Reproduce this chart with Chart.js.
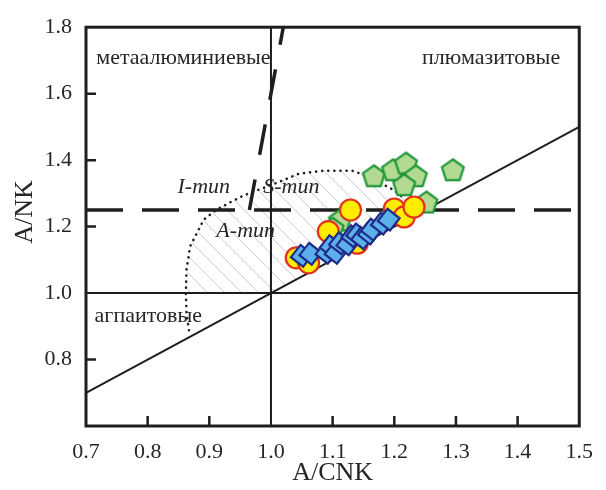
<!DOCTYPE html>
<html>
<head>
<meta charset="utf-8">
<script src="https://cdn.jsdelivr.net/npm/chart.js@4"></script>
<style>
  body { margin: 0; background: #fff; }
  canvas { display: block; }
</style>
</head>
<body>
<canvas id="shand" width="606" height="490"></canvas>
<script>
// Оси
const xTicks = [0.7, 0.8, 0.9, 1.0, 1.1, 1.2, 1.3, 1.4, 1.5];
const yTicks = [0.8, 1.0, 1.2, 1.4, 1.6, 1.8];
const xInnerTicks = [0.8, 0.9, 1.1, 1.2, 1.3, 1.4];
const yInnerTicks = [0.8, 1.2, 1.4, 1.6];

// Точки
const circleX = [1.041, 1.061, 1.093, 1.129, 1.140, 1.200, 1.216, 1.232];
const circleY = [1.106, 1.091, 1.185, 1.250, 1.150, 1.253, 1.229, 1.259];

const pentX = [1.167, 1.198, 1.219, 1.235, 1.216, 1.295, 1.252, 1.112, 1.100];
const pentY = [1.353, 1.371, 1.391, 1.353, 1.326, 1.371, 1.274, 1.220, 1.195];

const diamondX = [1.050, 1.064, 1.090, 1.097, 1.105, 1.112, 1.124, 1.132, 1.140, 1.148, 1.159, 1.164, 1.180, 1.191];
const diamondY = [1.112, 1.118, 1.121, 1.141, 1.121, 1.150, 1.147, 1.171, 1.176, 1.165, 1.179, 1.191, 1.209, 1.221];

// Границы полей
const diagX = [0.7, 1.5];
const diagY = [0.7, 1.5];
const dashHX = [0.7, 1.5];
const dashHY = [1.25, 1.25];
const dashVX = [0.965, 1.020];
const dashVY = [1.25, 1.8];
const dotX = [0.867, 0.863, 0.862, 0.863, 0.869, 0.891, 0.911, 0.935, 0.956, 0.990, 1.022, 1.045, 1.085, 1.132, 1.164, 1.183, 1.200, 1.214];
const dotY = [0.888, 0.94, 1.000, 1.070, 1.141, 1.221, 1.250, 1.274, 1.294, 1.318, 1.341, 1.359, 1.368, 1.368, 1.347, 1.326, 1.309, 1.288];

const labels = [
  { text: "метаалюминиевые", x: 0.858, y: 1.706, italic: false },
  { text: "плюмазитовые", x: 1.357, y: 1.706, italic: false },
  { text: "агпаитовые", x: 0.801, y: 0.929, italic: false },
  { text: "I-mun", x: 0.891, y: 1.32, italic: true },
  { text: "S-mun", x: 1.033, y: 1.32, italic: true },
  { text: "A-mun", x: 0.959, y: 1.185, italic: true }
];

const serif = "'Liberation Serif', 'Times New Roman', serif";
const toPts = (xs, ys) => xs.map((x, i) => ({ x: x, y: ys[i] }));

// пятиугольник
function pentagon(r, fill, stroke) {
  const c = document.createElement("canvas");
  const s = Math.ceil(r * 2 + 4);
  c.width = s; c.height = s;
  const g = c.getContext("2d");
  g.beginPath();
  for (let i = 0; i < 5; i++) {
    const a = -Math.PI / 2 + i * 2 * Math.PI / 5;
    const px = s / 2 + r * Math.cos(a), py = s / 2 + r * Math.sin(a) + 1;
    if (i === 0) g.moveTo(px, py); else g.lineTo(px, py);
  }
  g.closePath();
  g.fillStyle = fill; g.fill();
  g.lineWidth = 2.2; g.strokeStyle = stroke; g.stroke();
  return c;
}

const framePlugin = {
  id: "frame",
  beforeDatasetsDraw(chart) {
    const { ctx, chartArea: a, scales: { x, y } } = chart;
    // штриховка A-типа
    ctx.save();
    ctx.beginPath();
    let started = false;
    dotX.forEach((v, i) => {
      if (dotY[i] < 1.0) return;
      const px = x.getPixelForValue(v), py = y.getPixelForValue(dotY[i]);
      if (!started) { ctx.moveTo(px, py); started = true; } else ctx.lineTo(px, py);
    });
    const last = dotX[dotX.length - 1];
    ctx.lineTo(x.getPixelForValue(last + 0.01), y.getPixelForValue(last + 0.01));
    ctx.lineTo(x.getPixelForValue(1.0), y.getPixelForValue(1.0));
    ctx.closePath();
    ctx.clip();
    ctx.strokeStyle = "#cfcfcf";
    ctx.lineWidth = 1;
    const H = a.bottom - a.top;
    for (let k = a.left - H; k < a.right; k += 17) {
      ctx.beginPath();
      ctx.moveTo(k, a.top);
      ctx.lineTo(k + H, a.bottom);
      ctx.stroke();
    }
    ctx.restore();
  },
  afterDatasetsDraw(chart) {
    const { ctx, chartArea: a, scales: { x, y } } = chart;
    ctx.save();
    // надписи
    ctx.fillStyle = "#262626";
    ctx.textAlign = "center";
    ctx.textBaseline = "middle";
    labels.forEach(l => {
      ctx.font = (l.italic ? "italic " : "") + "22px " + serif;
      ctx.fillText(l.text, x.getPixelForValue(l.x), y.getPixelForValue(l.y));
    });
    // подписи осей
    ctx.font = "26px " + serif;
    ctx.fillText("A/CNK", (a.left + a.right) / 2, 473);
    ctx.save();
    ctx.translate(25, 212);
    ctx.rotate(-Math.PI / 2);
    ctx.fillText("A/NK", 0, 0);
    ctx.restore();
    // рамка и засечки
    ctx.strokeStyle = "#1e1e1e";
    ctx.lineWidth = 3;
    ctx.strokeRect(a.left, a.top, a.right - a.left, a.bottom - a.top);
    ctx.lineWidth = 2.5;
    ctx.beginPath();
    xInnerTicks.forEach(v => {
      const px = x.getPixelForValue(v);
      ctx.moveTo(px, a.bottom);
      ctx.lineTo(px, a.bottom - 10);
    });
    yInnerTicks.forEach(v => {
      const py = y.getPixelForValue(v);
      ctx.moveTo(a.left, py);
      ctx.lineTo(a.left + 10, py);
    });
    ctx.stroke();
    ctx.restore();
  }
};

const lineDs = (data, opts) => Object.assign({
  type: "line", data: data, showLine: true, pointRadius: 0, fill: false,
  borderColor: "#1e1e1e", borderWidth: 2, tension: 0, order: 10
}, opts);

new Chart(document.getElementById("shand"), {
  type: "scatter",
  data: {
    datasets: [
      lineDs(toPts(diagX, diagY), {}),
      lineDs(toPts([1.0, 1.0], [0.6, 1.8]), {}),
      lineDs(toPts([0.7, 1.5], [1.0, 1.0]), {}),
      lineDs(toPts(dashHX, dashHY), { borderWidth: 3.5, borderDash: [37, 19] }),
      lineDs(toPts(dashVX, dashVY), { borderWidth: 3.5, borderDash: [31, 25] }),
      lineDs(toPts(dotX, dotY), { borderWidth: 2.6, borderDash: [0.1, 6], borderCapStyle: "round", borderColor: "#222" }),
      {
        label: "pent", data: toPts(pentX, pentY), order: 3,
        pointStyle: pentagon(11.5, "#b2da93", "#1f9638"), pointRadius: 11
      },
      {
        label: "circle", data: toPts(circleX, circleY), order: 2,
        pointStyle: "circle", pointRadius: 10.5,
        backgroundColor: "#ffec00", borderColor: "#e2321c", borderWidth: 2.2
      },
      {
        label: "diamond", data: toPts(diamondX, diamondY), order: 1,
        pointStyle: "rect", rotation: 38, pointRadius: 11,
        backgroundColor: "#5cb0ea", borderColor: "#202a8a", borderWidth: 2.2
      }
    ]
  },
  options: {
    responsive: false,
    animation: false,
    devicePixelRatio: 1,
    layout: { padding: { left: 0, right: 13, top: 16, bottom: 0 } },
    plugins: { legend: { display: false }, tooltip: { enabled: false } },
    scales: {
      x: {
        type: "linear", min: 0.7, max: 1.5,
        afterBuildTicks: s => { s.ticks = xTicks.map(v => ({ value: v })); },
        afterFit: s => { s.height = 64; },
        grid: { display: false, drawTicks: false },
        border: { display: false },
        ticks: {
          padding: 13, color: "#262626",
          font: { family: serif, size: 22 },
          callback: v => v.toFixed(1)
        }
      },
      y: {
        type: "linear", min: 0.6, max: 1.8,
        afterBuildTicks: s => { s.ticks = yTicks.map(v => ({ value: v })); },
        afterFit: s => { s.width = 86; },
        grid: { display: false, drawTicks: false },
        border: { display: false },
        ticks: {
          padding: 14, color: "#262626",
          font: { family: serif, size: 22 },
          callback: v => v.toFixed(1)
        }
      }
    }
  },
  plugins: [framePlugin]
});
</script>
</body>
</html>
